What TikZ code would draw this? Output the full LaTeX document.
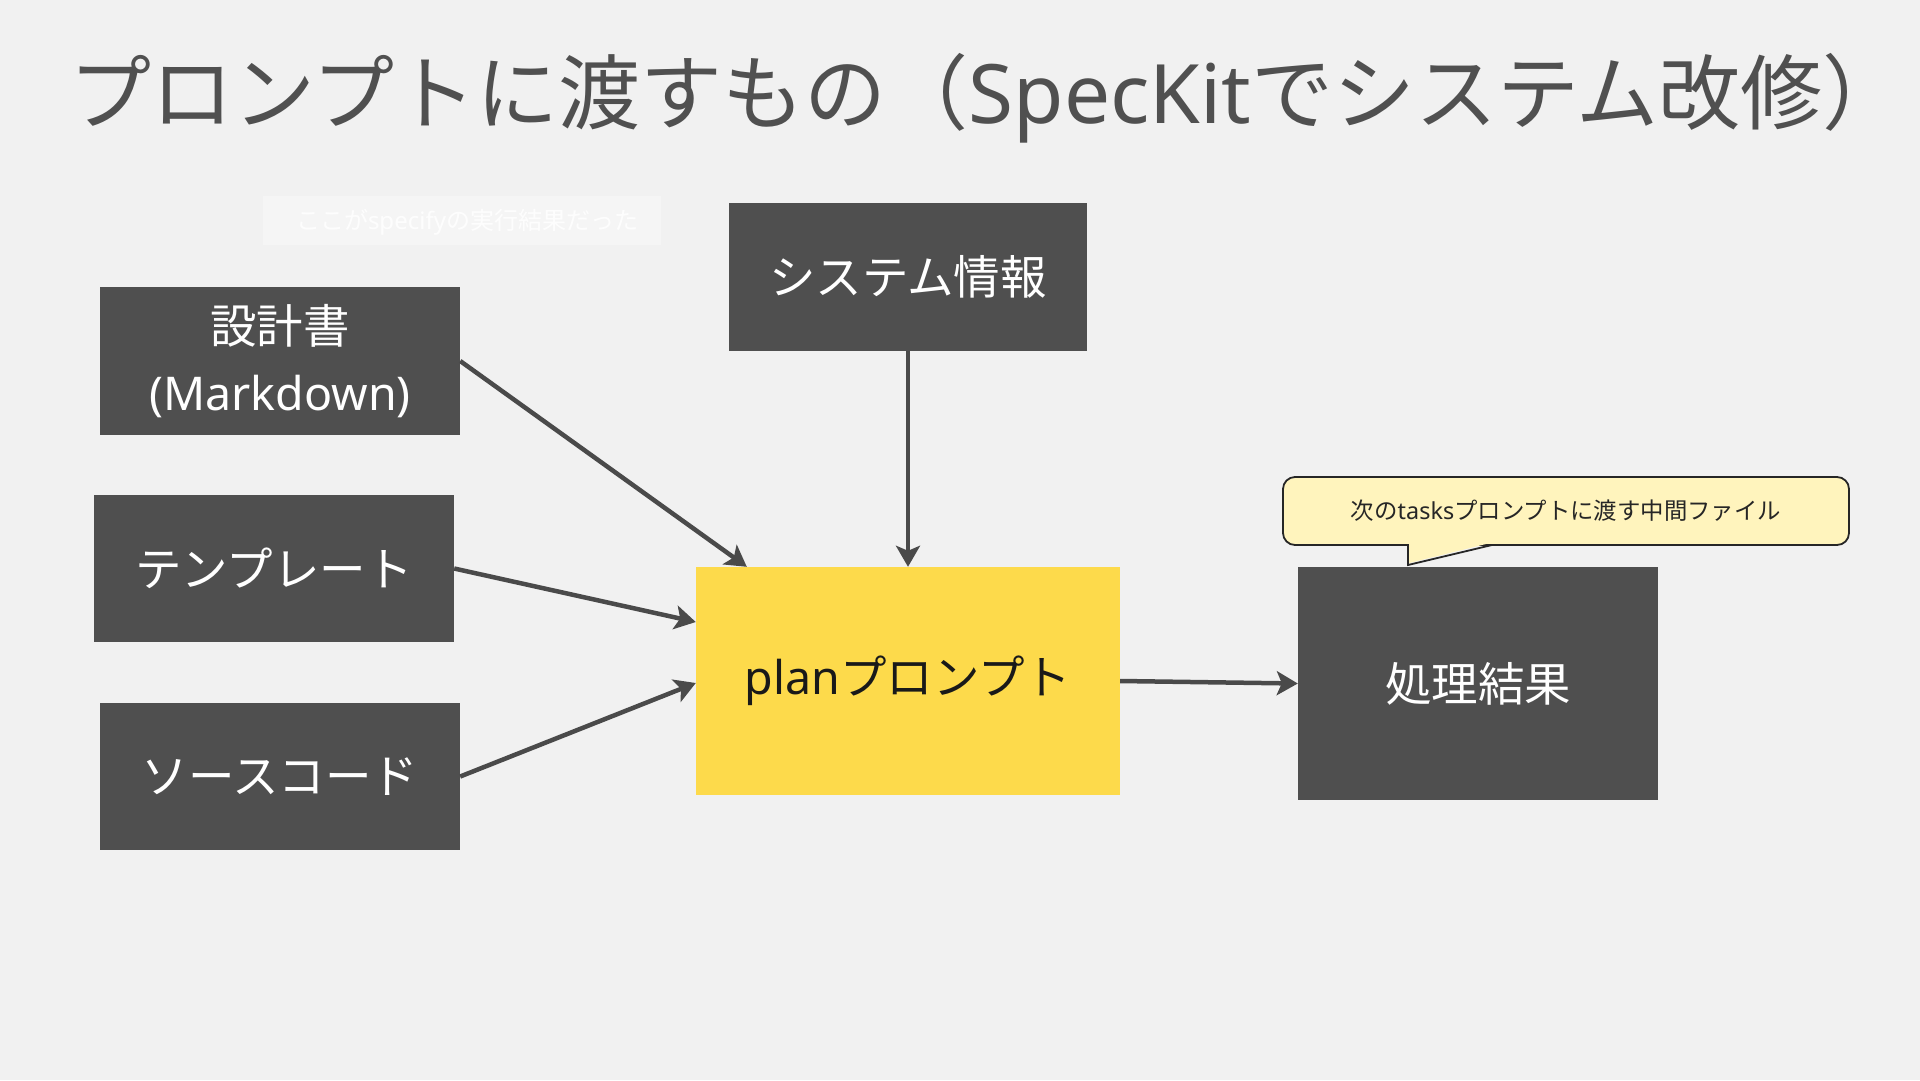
\documentclass[tikz,border=0pt]{standalone}
\usepackage{fontspec}
\setmainfont{Noto Sans CJK JP}
\newfontfamily\lt{Noto Sans}
\usetikzlibrary{arrows.meta,calc}
\definecolor{bg}{HTML}{F1F1F1}
\definecolor{boxc}{HTML}{4F4F4F}
\definecolor{ylw}{HTML}{FDDA4B}
\definecolor{arr}{HTML}{4A4A4A}
\definecolor{callc}{HTML}{FFF4BD}
\definecolor{titlec}{HTML}{505050}
\begin{document}
\begin{tikzpicture}[x=1pt,y=-1pt,
  darkbox/.style={fill=boxc, text=white, inner sep=0pt, align=center,
    font=\fontsize{46.5}{67}\selectfont},
  link/.style={draw=arr, line width=4.5pt, -{Stealth[length=21pt,width=24pt,inset=5pt]}}]
\fill[bg] (0,0) rectangle (1920,1080);
\useasboundingbox (0,0) rectangle (1920,1080);

% title
\node[anchor=base west, inner sep=0pt, text=titlec, font=\fontsize{82}{94}\selectfont] (title) at (69,123)
  {プロンプトに渡すもの（{\lt SpecKit}でシステム改修）};

% faint note
\fill[white, opacity=0.3] (263,196) rectangle (661,245);
\node[text=white, opacity=0.85, font=\fontsize{24}{29}\selectfont] (faint) at (467,222)
  {ここが{\lt specify}の実行結果だった};

% boxes
\node[darkbox, minimum width=360pt, minimum height=148pt] (design) at (280,361)
  {設計書\\{\lt (Markdown)}};
\node[darkbox, minimum width=360pt, minimum height=147pt] (template) at (274,568.5) {テンプレート};
\node[darkbox, minimum width=360pt, minimum height=147pt] (source) at (280,776.5) {ソースコード};
\node[darkbox, minimum width=358pt, minimum height=148pt] (sysinfo) at (908,277) {システム情報};
\node[darkbox, fill=ylw, text=black!90, minimum width=424pt, minimum height=228pt] (plan) at (908,681)
  {{\lt plan}プロンプト};
\node[darkbox, minimum width=360pt, minimum height=233pt] (result) at (1478,683.5) {処理結果};

% callout
\draw[fill=callc, draw=black!85, line width=1.8pt, rounded corners=12pt] (1283,477) rectangle (1849,545);
\fill[callc] (1409.2,543) -- (1409.2,563) -- (1490,543) -- cycle;
\draw[draw=black!85, line width=1.8pt, line join=miter] (1408,545) -- (1408,565) -- (1492,545);
\node[text=black!85, font=\fontsize{23.4}{28}\selectfont] (note) at (1566,511)
  {次の{\lt tasks}プロンプトに渡す中間ファイル};

% connectors
\draw[link] (design.east) -- ($(plan.north west)+(51,0)$);
\draw[link] (template.east) -- ($(plan.west)+(0,-59)$);
\draw[link] (source.east) -- ($(plan.west)+(0,2)$);
\draw[link] (sysinfo.south) -- (plan.north);
\draw[link] (plan.east) -- (result.west);
\end{tikzpicture}
\end{document}
